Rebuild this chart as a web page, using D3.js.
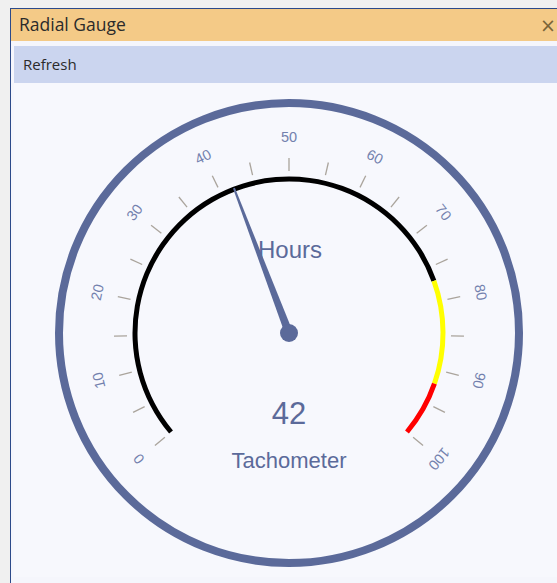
<!DOCTYPE html>
<html>
<head>
<meta charset="utf-8">
<script src="https://cdn.jsdelivr.net/npm/d3@7"></script>
<style>
  html, body { margin: 0; padding: 0; background: #f0f0f0; }
  svg { display: block; }
</style>
</head>
<body>
<svg id="chart" width="557" height="583"></svg>
<script>
// Gauge configuration
const gaugeDomain = [0, 100];
const gaugeValue = 42;
const gaugeTitle = "Hours";
const gaugeCaption = "Tachometer";
const tickValues = d3.range(0, 101, 5);
const tickLabels = ["0", "10", "20", "30", "40", "50", "60", "70", "80", "90", "100"];
const labelValues = [0, 10, 20, 30, 40, 50, 60, 70, 80, 90, 100];
const bandStarts = [0, 77, 92];
const bandEnds = [77, 92, 100];
const bandColors = ["#000000", "#ffff00", "#ff0000"];

const svg = d3.select("#chart");
const W = 557, H = 583;

// Window frame
svg.append("rect").attr("x", 0).attr("y", 0).attr("width", W).attr("height", H).attr("fill", "#f0f0f0");
svg.append("rect").attr("x", 10).attr("y", 8).attr("width", W - 10).attr("height", H - 8).attr("fill", "#2c4a8a");
svg.append("rect").attr("x", 11).attr("y", 9).attr("width", W - 11).attr("height", H - 9).attr("fill", "#f5f6fc");
svg.append("rect").attr("x", 11).attr("y", 9).attr("width", W - 11).attr("height", 32).attr("fill", "#f4ca87");
svg.append("text").attr("x", 19).attr("y", 31).attr("font-family", "'Open Sans', 'Noto Sans', sans-serif")
  .attr("font-size", 17.5).attr("fill", "#2b2b2b").text("Radial Gauge");
svg.append("text").attr("x", 548).attr("y", 32).attr("text-anchor", "middle")
  .attr("font-family", "'DejaVu Sans', sans-serif").attr("font-size", 19).attr("fill", "#7a6438").text("×");
svg.append("rect").attr("x", 14).attr("y", 46).attr("width", W - 14).attr("height", 37).attr("fill", "#cbd5ef");
svg.append("text").attr("x", 23).attr("y", 70).attr("font-family", "'Open Sans', 'Noto Sans', sans-serif")
  .attr("font-size", 15).attr("fill", "#2b2b2b").text("Refresh");
svg.append("rect").attr("x", 14).attr("y", 83).attr("width", W - 14).attr("height", 494).attr("fill", "#f7f8fd");

// Gauge
const cx = 289, cy = 333;
const angle = d3.scaleLinear().domain(gaugeDomain).range([-130, 130]);
const rad = d => angle(d) * Math.PI / 180;
const g = svg.append("g").attr("transform", `translate(${cx},${cy})`);
const ink = "#5b6a9a";

// Outer ring
g.append("circle").attr("r", 230).attr("fill", "none").attr("stroke", ink).attr("stroke-width", 8);

// Coloured bands
const bandArc = d3.arc().innerRadius(151.5).outerRadius(156.5);
g.selectAll("path.band").data(bandStarts).join("path")
  .attr("class", "band")
  .attr("d", (d, i) => bandArc({ startAngle: rad(d), endAngle: rad(bandEnds[i]) }))
  .attr("fill", (d, i) => bandColors[i]);

// Tick marks
g.selectAll("line.tick").data(tickValues).join("line")
  .attr("class", "tick")
  .attr("x1", d => 162 * Math.sin(rad(d)))
  .attr("y1", d => -162 * Math.cos(rad(d)))
  .attr("x2", d => 175 * Math.sin(rad(d)))
  .attr("y2", d => -175 * Math.cos(rad(d)))
  .attr("stroke", "#aaa49c").attr("stroke-width", 1.3);

// Tick labels, rotated along the dial
g.selectAll("text.lbl").data(labelValues).join("text")
  .attr("class", "lbl")
  .attr("transform", d => `translate(${196 * Math.sin(rad(d))},${-196 * Math.cos(rad(d))}) rotate(${angle(d)})`)
  .attr("text-anchor", "middle").attr("dominant-baseline", "central")
  .attr("font-family", "'Liberation Sans', Arial, sans-serif").attr("font-size", 14.5)
  .attr("fill", "#7381ae")
  .text((d, i) => tickLabels[i]);

// Titles
g.append("text").attr("x", 1).attr("y", -75).attr("text-anchor", "middle")
  .attr("font-family", "'Liberation Sans', Arial, sans-serif").attr("font-size", 24)
  .attr("fill", ink).text(gaugeTitle);
g.append("text").attr("x", 0).attr("y", 91).attr("text-anchor", "middle")
  .attr("font-family", "'Liberation Sans', Arial, sans-serif").attr("font-size", 31)
  .attr("fill", ink).text(gaugeValue);
g.append("text").attr("x", 0).attr("y", 135).attr("text-anchor", "middle")
  .attr("font-family", "'Liberation Sans', Arial, sans-serif").attr("font-size", 22)
  .attr("fill", ink).text(gaugeCaption);

// Needle
const a = rad(gaugeValue);
const tipR = 155, baseHalf = 4, tipHalf = 1;
const ux = Math.sin(a), uy = -Math.cos(a);
const px = Math.cos(a), py = Math.sin(a);
const needle = [
  [baseHalf * px, baseHalf * py],
  [tipR * ux + tipHalf * px, tipR * uy + tipHalf * py],
  [tipR * ux - tipHalf * px, tipR * uy - tipHalf * py],
  [-baseHalf * px, -baseHalf * py]
];
g.append("path").attr("d", d3.line()(needle) + "Z").attr("fill", ink);
g.append("circle").attr("r", 9).attr("fill", ink);
</script>
</body>
</html>
